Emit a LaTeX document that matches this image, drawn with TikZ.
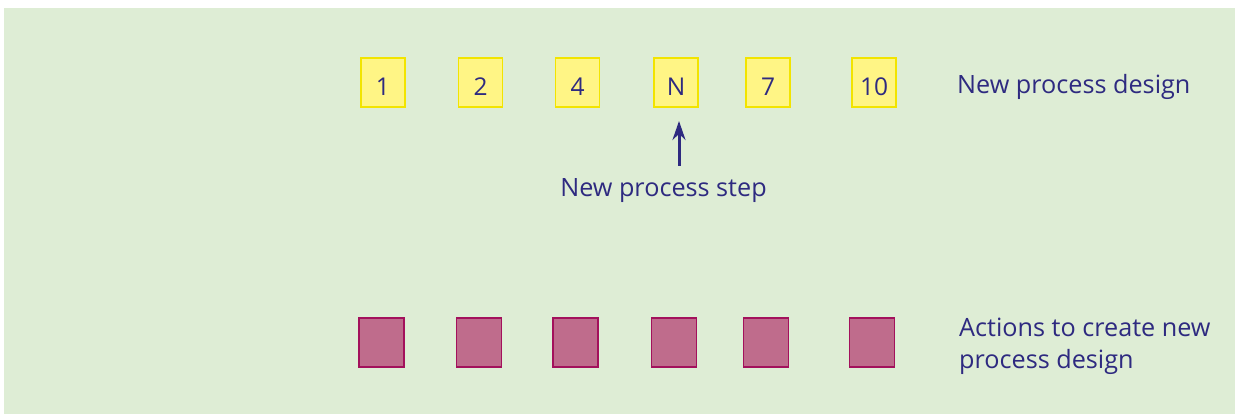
\documentclass[tikz,border=0pt]{standalone}
\usepackage{fontspec}
\setmainfont{Open Sans}
\usetikzlibrary{arrows.meta}
\definecolor{bggreen}{HTML}{DEEDD5}
\definecolor{ytfill}{HTML}{FFF585}
\definecolor{ytdraw}{HTML}{F2E400}
\definecolor{pkfill}{HTML}{BF6C8C}
\definecolor{pkdraw}{HTML}{A3115C}
\definecolor{navy}{HTML}{2E2A80}
\tikzset{
  stepbox/.style={draw=ytdraw, fill=ytfill, line width=1.3pt, minimum width=44pt, minimum height=49pt, inner sep=0pt,
    text=navy, font=\fontsize{24.5}{30}\selectfont, text height=27pt, text depth=0pt},
  actbox/.style={draw=pkdraw, fill=pkfill, line width=1.3pt, minimum width=45pt, minimum height=49pt, inner sep=0pt},
  lbl/.style={text=navy, font=\fontsize{25.2}{31.5}\selectfont, inner sep=0pt},
}
\begin{document}
\begin{tikzpicture}[x=1pt,y=-1pt]
\useasboundingbox (0,0) rectangle (1235,414);
\fill[bggreen] (4,8) rectangle (1235,414);
% yellow process boxes
\node[stepbox] (s1) at (383,82.5) {1};
\node[stepbox] (s2) at (480.5,82.5) {2};
\node[stepbox] (s4) at (577.5,82.5) {4};
\node[stepbox] (sN) at (676,82.5) {N};
\node[stepbox] (s7) at (768,82.5) {7};
\node[stepbox] (s10) at (874,82.5) {10};
\node[lbl, anchor=base west] (design) at (957,94) {New process design};
% new step label and arrow
\node[lbl, anchor=base] (steplbl) at (663.5,197) {New process step};
\coordinate (arrtail) at (679,166);
\coordinate (arrhead) at (679,121);
\draw[navy, line width=3pt, -{Stealth[length=19pt,width=13pt]}] (arrtail) -- (arrhead);
% pink action boxes
\node[actbox] (a1) at (381.5,342.5) {};
\node[actbox] (a2) at (479,342.5) {};
\node[actbox] (a3) at (575.5,342.5) {};
\node[actbox] (a4) at (673.8,342.5) {};
\node[actbox] (a5) at (766,342.5) {};
\node[actbox] (a6) at (872,342.5) {};
\node[lbl, anchor=base west, align=left] (actions) at (959,368) {Actions to create new\\process design};
\end{tikzpicture}
\end{document}
